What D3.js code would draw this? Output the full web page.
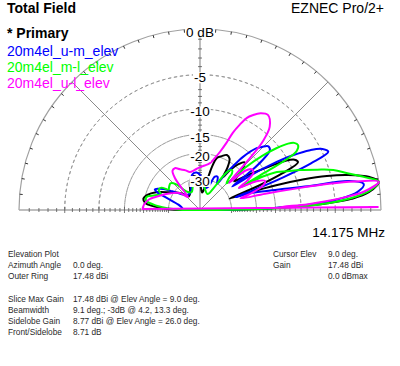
<!DOCTYPE html>
<html><head><meta charset="utf-8">
<script src="https://cdn.jsdelivr.net/npm/d3@7"></script>
<style>body{margin:0;background:#fff} svg{display:block} text{font-family:"Liberation Sans",Arial,sans-serif}</style>
</head><body><svg id="c" width="400" height="366"></svg>
<script>
// ---- data ----
const ringDb = [-5, -10, -15, -20, -30];
const ringLabels = ["-5", "-10", "-15", "-20", "-30"];
const seriesNames = ["* Primary", "20m4el_u-m_elev", "20m4el_m-l_elev", "20m4el_u-l_elev"];
const seriesColors = ["#000000", "#0000ff", "#00ff00", "#ff00ff"];
// [elevation angle deg, dB relative to max]
const primary = [[0,-40],[1,-20],[2,-10.5],[3,-6],[4.2,-3],[6,-1.1],[9,0],[11,-0.8],[13.3,-3],[15,-5.5],[16.5,-9],[18,-14],[19.5,-21],[21,-30],[22.5,-18],[24,-12],[26,-8.7],[28,-9],[30,-10.5],[32,-13.5],[34.5,-17],[37.5,-21],[40,-24],[42,-22],[44,-19],[47,-17.5],[50,-19],[53,-22],[55,-26],[57,-22],[60,-19.2],[64,-18.6],[68,-19.5],[72,-20.5],[74.5,-24],[76,-29],[78,-35],[83,-40],[90,-33],[97,-29],[103,-28.5],[110,-31],[118,-37],[128,-40],[140,-33],[150,-28],[158,-23],[164,-20.5],[169,-19.6],[173,-20.5],[177,-26],[180,-40]];
const umElev = [[0,-40],[1,-22],[2,-12.5],[3,-8],[4.5,-4.5],[6.5,-2.3],[9,-1.5],[11,-3],[12.4,-8.5],[14,-12.5],[16,-16.5],[18.8,-21.4],[19.8,-27],[20.5,-19],[21.5,-12],[22.8,-7],[24.4,-4.3],[26.5,-4.8],[28.5,-6.3],[30.5,-8.9],[32.5,-13],[34.5,-19],[36,-26],[37.3,-18],[38.5,-14.2],[40.6,-11.6],[43.2,-11.4],[45.5,-12.3],[47.5,-13.2],[51,-16.7],[53,-20.5],[55,-24.5],[57,-30],[62,-27],[66,-27.5],[70,-34],[78,-36],[88,-29],[95,-27],[102,-27.5],[108,-31],[118,-38],[130,-38],[140,-34],[146,-29],[150,-25],[153,-23.2],[155.5,-22.2],[157.5,-23.5],[160,-28],[166,-36],[175,-40],[180,-40]];
const mlElev = [[0,-40],[1,-19],[2,-10],[3,-6],[4.5,-3],[6.5,-1],[9,0],[11.3,-1.3],[14,-3],[16.7,-4.5],[19,-6.5],[21.8,-8.9],[24,-11],[26.3,-12.8],[28,-16],[29.3,-24],[30,-14],[30.5,-9.5],[31.5,-8],[33.5,-7.4],[35.5,-7.7],[37,-8.5],[39,-10.5],[41,-13.5],[43,-18],[45,-27],[47.5,-25],[49,-22.5],[51,-21.7],[53.5,-22.3],[56,-26],[58,-33],[65,-40],[80,-35],[90,-31],[97,-30],[104,-32],[115,-38],[125,-36],[133,-28],[138,-26],[143,-26.5],[147,-27],[150,-24],[154,-23.5],[158,-25],[162,-23],[166,-20.5],[170,-20.5],[174,-24],[178,-33],[180,-40]];
const ulElev = [[1,-0.3],[2,-14],[3,-9],[4,-6],[5,-3.8],[6.5,-1.5],[9,0],[10.5,-2.5],[11.5,-5.5],[12.5,-10],[14,-17],[16,-25],[18,-21],[21,-17],[24,-16],[27,-18],[29.5,-24],[32,-20],[35,-17.5],[38,-17.3],[41,-19],[43,-26],[46,-16],[47.5,-11.5],[50,-8.8],[54.5,-7.5],[58,-7.9],[61,-8.8],[63,-9.6],[65,-11.2],[67,-13.2],[68.5,-15.8],[71,-18.5],[74,-20.7],[78,-22.8],[84,-24],[90,-24.7],[98,-25.8],[105,-26.2],[110,-25],[116,-23.8],[121,-22.5],[125,-22.8],[128,-25.5],[130,-32],[133,-40],[140,-33],[150,-29],[160,-25],[168,-21.5],[173,-20.3],[177,-19.8],[179,-19.7]];
const seriesData = [primary, umElev, mlElev, ulElev];
const infoLabels = ["Elevation Plot", "Azimuth Angle", "Outer Ring", "", "Slice Max Gain", "Beamwidth", "Sidelobe Gain", "Front/Sidelobe"];
const infoValues = ["", "0.0 deg.", "17.48 dBi", "", "17.48 dBi @ Elev Angle = 9.0 deg.", "9.1 deg.; -3dB @ 4.2, 13.3 deg.", "8.77 dBi @ Elev Angle = 26.0 deg.", "8.71 dB"];
const cursorLabels = ["Cursor Elev", "Gain", ""];
const cursorValues = ["9.0 deg.", "17.48 dBi", "0.0 dBmax"];

// ---- layout ----
const svg = d3.select("#c");
const cx = 200, cy = 210, R = 181;
const minDb = -40;
// ARRL log scale: r = R * 0.89^(-dB/2)
const rLog = d3.scaleLog().domain([R * Math.pow(0.89, -minDb / 2), R]).range([minDb, 0]);
const rS = v => rLog.invert(v);
const aS = d3.scaleLinear().domain([0, 180]).range([Math.PI / 2, -Math.PI / 2]);
const g = svg.append("g").attr("transform", `translate(${cx},${cy})`);
const pt = (deg, r) => [r * Math.cos(deg * Math.PI / 180), -r * Math.sin(deg * Math.PI / 180)];

// dashed rings
const arc = d3.arc().startAngle(-Math.PI / 2).endAngle(Math.PI / 2);
ringDb.forEach(db => {
  g.append("path").attr("d", arc({innerRadius: rS(db), outerRadius: rS(db)}))
    .attr("fill", "none").attr("stroke", "#9a9a9a").attr("stroke-width", 1).attr("stroke-dasharray", "3,3");
});
// outer ring
g.append("path").attr("d", arc({innerRadius: R, outerRadius: R})).attr("fill", "none").attr("stroke", "#a0a0a0").attr("stroke-width", 1.2);
// outer ring ticks every 5 deg
d3.range(5, 180, 5).forEach(a => {
  const p1 = pt(a, R), p2 = pt(a, R - 3);
  g.append("line").attr("x1", p1[0]).attr("y1", p1[1]).attr("x2", p2[0]).attr("y2", p2[1]).attr("stroke", "#333").attr("stroke-width", 1);
});
// radial lines
[45, 135].forEach(a => {
  const p = pt(a, R);
  g.append("line").attr("x1", 0).attr("y1", 0).attr("x2", p[0]).attr("y2", p[1]).attr("stroke", "#8a8a8a").attr("stroke-width", 1);
});
g.append("line").attr("x1", 0).attr("y1", 0).attr("x2", 0).attr("y2", -R).attr("stroke", "#a8a8a8").attr("stroke-width", 1.5);
g.append("line").attr("x1", -R).attr("y1", 0).attr("x2", R).attr("y2", 0).attr("stroke", "#a8a8a8").attr("stroke-width", 1.5);
// dB ticks on axes
const tickDbs = d3.range(-1, -31, -1);
tickDbs.forEach(db => {
  const r = rS(db), big = ringDb.includes(db);
  const t = big ? 3 : 2;
  [-r, r].forEach(x => g.append("line").attr("x1", x).attr("x2", x).attr("y1", -t).attr("y2", t).attr("stroke", "#555").attr("stroke-width", 0.8));
  g.append("line").attr("x1", -t).attr("x2", t).attr("y1", -r).attr("y2", -r).attr("stroke", "#555").attr("stroke-width", 0.8);
});

// patterns
const line = d3.lineRadial().angle(d => aS(d[0])).radius(d => rS(d[1])).curve(d3.curveCatmullRom);
seriesData.forEach((data, i) => {
  g.append("path").attr("d", line(data) + "Z").attr("fill", "none")
    .attr("stroke", seriesColors[i]).attr("stroke-width", 2).attr("stroke-linejoin", "round");
});

// ring labels with white backgrounds
const lbls = [{t: "0 dB", db: 0}].concat(ringDb.map((db, i) => ({t: ringLabels[i], db})));
lbls.forEach(l => {
  const y = -rS(l.db) + 7.5;
  const txt = g.append("text").attr("x", 0).attr("y", y).attr("text-anchor", "middle").attr("font-size", 13.5).attr("fill", "#000").text(l.t);
  const bb = txt.node().getBBox();
  g.insert("rect", "text").attr("x", bb.x - 1).attr("y", bb.y + 2).attr("width", bb.width + 2).attr("height", bb.height - 4).attr("fill", "#fff");
});

// titles and legend
svg.append("text").attr("x", 7).attr("y", 13).attr("font-size", 14).attr("font-weight", "bold").text("Total Field");
svg.append("text").attr("x", 384).attr("y", 13).attr("font-size", 14).attr("text-anchor", "end").text("EZNEC Pro/2+");
seriesNames.forEach((n, i) => {
  svg.append("text").attr("x", 7).attr("y", i === 0 ? 38 : 40 + 16 * i)
    .attr("font-size", 14).attr("font-weight", i === 0 ? "bold" : "normal")
    .attr("fill", seriesColors[i]).text(n);
});
svg.append("text").attr("x", 385).attr("y", 237).attr("font-size", 13.5).attr("text-anchor", "end").text("14.175 MHz");

// info blocks
const infoY = [257, 268, 279, 291, 302, 313, 324, 335];
infoLabels.forEach((t, i) => {
  svg.append("text").attr("x", 8).attr("y", infoY[i]).attr("font-size", 8.3).attr("fill", "#2a2a2a").text(t);
  svg.append("text").attr("x", 73).attr("y", infoY[i]).attr("font-size", 8.3).attr("fill", "#2a2a2a").text(infoValues[i]);
});
cursorLabels.forEach((t, i) => {
  svg.append("text").attr("x", 273).attr("y", infoY[i]).attr("font-size", 8.3).attr("fill", "#2a2a2a").text(t);
  svg.append("text").attr("x", 328).attr("y", infoY[i]).attr("font-size", 8.3).attr("fill", "#2a2a2a").text(cursorValues[i]);
});
</script></body></html>
